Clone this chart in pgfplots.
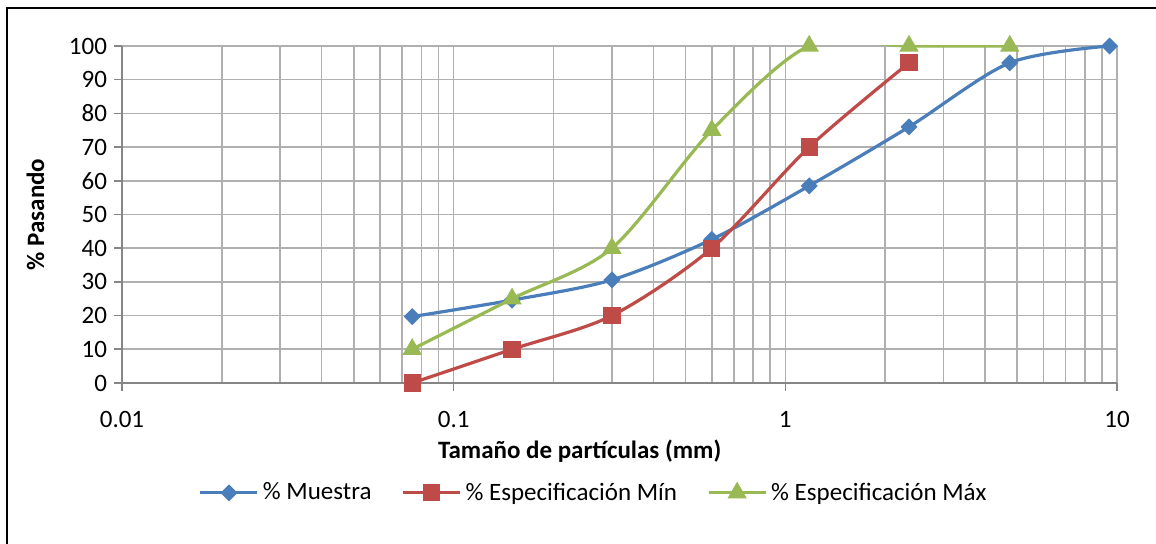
\documentclass[border=0pt]{standalone}
\usepackage{pgfplots}
\pgfplotsset{compat=1.18}
\usepackage{fontspec}
\setmainfont{Carlito}

\definecolor{cMuestra}{HTML}{4A7EBB}
\definecolor{cMin}{HTML}{BE4B48}
\definecolor{cMax}{HTML}{98B954}
\definecolor{gridc}{HTML}{B0B0B0}
\definecolor{axisc}{HTML}{868686}

\newcommand{\chartfont}{\fontsize{12.5}{15}\selectfont}

\begin{document}
\begin{tikzpicture}
\useasboundingbox (-61pt,-80.5pt) rectangle (517pt,191.5pt);
\draw[line width=1pt] (-57.5pt,-80.5pt) -- (-57.5pt,187.5pt) -- (517pt,187.5pt);
\begin{axis}[
    at={(0pt,0pt)}, anchor=south west,
    scale only axis,
    width=497.5pt, height=168.5pt,
    xmode=log, log basis x=10,
    xmin=0.01, xmax=10,
    ymin=0, ymax=100,
    xtick={0.01,0.1,1,10},
    xticklabels={0.01,0.1,1,10},
    minor xtick={0.02,0.03,0.04,0.05,0.06,0.07,0.08,0.09,0.2,0.3,0.4,0.5,0.6,0.7,0.8,0.9,2,3,4,5,6,7,8,9},
    ytick={0,10,...,100},
    /pgf/number format/assume math mode=true,
    xmajorgrids, xminorgrids, ymajorgrids,
    grid style={gridc, line width=0.8pt},
    minor grid style={gridc, line width=0.8pt},
    axis x line*=bottom, axis y line*=left,
    axis line style={axisc, line width=0.9pt, -},
    tick align=outside,
    major tick length=4pt, minor tick length=0pt,
    tick style={axisc, line width=0.8pt},
    tick label style={font=\chartfont},
    xticklabel style={yshift=-6.5pt},
    xlabel={\bfseries Tamaño de partículas (mm)},
    ylabel={\bfseries \% Pasando},
    label style={font=\chartfont},
    xlabel style={at={(axis description cs:0.46,-0.202)}, anchor=center},
    ylabel style={at={(axis description cs:-0.087,0.5)}, anchor=center},
    clip mode=individual,
    legend columns=3,
    legend style={at={(axis description cs:0.475,-0.326)}, anchor=center,
        draw=none, font=\chartfont,
        /tikz/every even column/.append style={column sep=13pt}},
    legend image code/.code={\draw[mark repeat=2,mark phase=2] plot coordinates {(0cm,0cm) (0.5cm,0cm) (1cm,0cm)};},
]
\addplot[cMuestra, line width=1.6pt, smooth, mark=square*, mark size=2.2pt,
    mark options={rotate=45, solid, fill=cMuestra}]
    coordinates {(0.075,19.7) (0.15,24.6) (0.3,30.6) (0.6,42.6) (1.18,58.5) (2.36,76) (4.75,95) (9.5,100)};
\addlegendentry{\% Muestra}
\addplot[cMin, line width=1.6pt, smooth, mark=square*, mark size=3.5pt,
    mark options={solid, fill=cMin}]
    coordinates {(0.075,0) (0.15,10) (0.3,20) (0.6,40) (1.18,70) (2.36,95)};
\addlegendentry{\% Especificación Mín}
\addplot[cMax, line width=1.6pt, smooth, mark=triangle*, mark size=4pt,
    mark options={solid, fill=cMax}]
    coordinates {(0.075,10) (0.15,25) (0.3,40) (0.6,75) (1.18,100) (2.36,100) (4.75,100)};
\addlegendentry{\% Especificación Máx}
\end{axis}
\end{tikzpicture}
\end{document}
